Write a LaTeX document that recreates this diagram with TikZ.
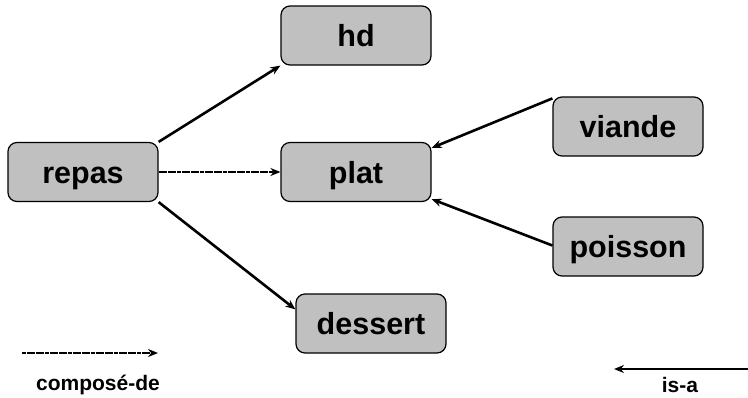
\documentclass[tikz,border=0pt]{standalone}
\usepackage{fontspec}
\setmainfont{Liberation Sans}
\usetikzlibrary{arrows.meta}
\definecolor{boxgray}{RGB}{192,192,192}
\tikzset{
  conc/.style={draw=black, fill=boxgray, rounded corners=9pt, line width=1.2pt,
    minimum width=150pt, minimum height=59pt, inner sep=0pt,
    text height=22pt, text depth=0pt,
    font=\fontsize{30.5}{34}\selectfont\bfseries},
  solidarr/.style={line width=2.6pt, -{Stealth[length=10pt,width=8pt]}},
  comp/.style={solidarr, dash pattern=on 4pt off 0.6pt},
  isa/.style={solidarr},
  legend/.style={font=\fontsize{21}{24}\selectfont\bfseries, inner sep=0pt}
}
\begin{document}
\begin{tikzpicture}[x=1pt,y=-1pt]
\useasboundingbox (0,0) rectangle (748,397);
\node[conc] (hd) at (356,35.5) {hd};
\node[conc] (repas) at (83,172) {repas};
\node[conc] (plat) at (356,172) {plat};
\node[conc] (viande) at (628,126.5) {viande};
\node[conc] (poisson) at (628,246.5) {poisson};
\node[conc] (dessert) at (371,323.5) {dessert};
\draw[solidarr] (repas.north east) -- (hd.south west);
\draw[comp] (repas.east) -- (plat.west);
\draw[solidarr] (repas.south east) -- ([yshift=-16pt]dessert.north west);
\draw[isa] ([yshift=-2pt]viande.north west) -- ([yshift=-6pt]plat.north east);
\draw[isa] ([yshift=1pt]poisson.west) -- ([yshift=3pt]plat.south east);
\coordinate (c1) at (22,353);
\coordinate (c2) at (158,353);
\draw[comp] (c1) -- (c2);
\node[legend] (lc) at (98,385) {composé-de};
\coordinate (i1) at (748,369);
\coordinate (i2) at (614,369);
\draw[isa] (i1) -- (i2);
\node[legend] (li) at (680,385) {is-a};
\end{tikzpicture}
\end{document}
